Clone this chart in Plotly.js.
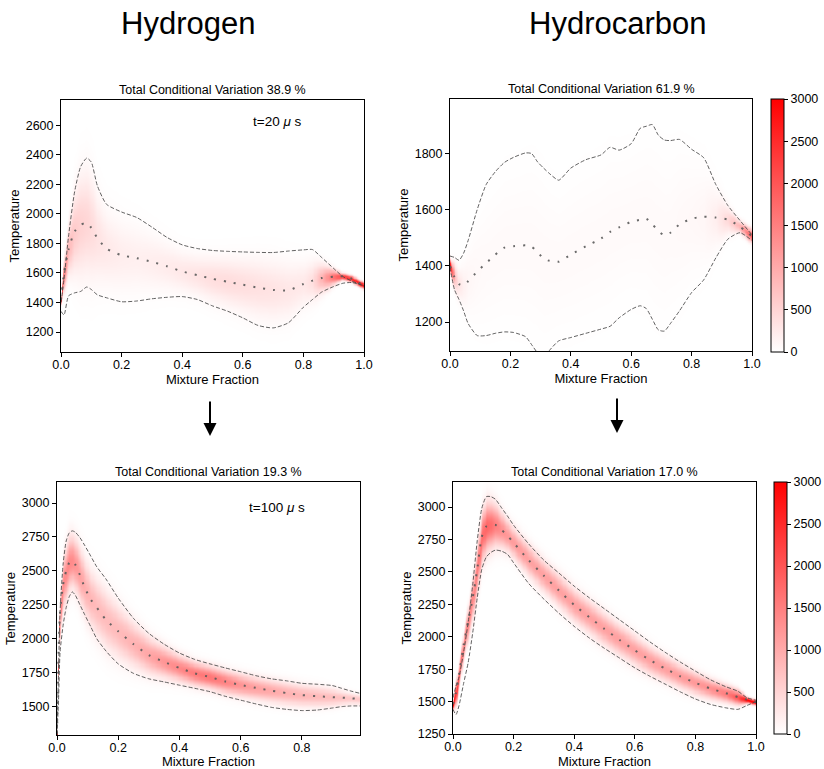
<!DOCTYPE html>
<html>
<head>
<meta charset="utf-8">
<script src="https://cdn.plot.ly/plotly-3.0.1.min.js"></script>
<style>html,body{margin:0;padding:0;background:#fff;}#chart{width:824px;height:769px;}</style>
</head>
<body>
<div id="chart"></div>
<script>
// ---------------- DATA ----------------
// Panel A: Hydrogen, t = 20 µs
const h20_x     = [0, 0.01, 0.025, 0.045, 0.065, 0.085, 0.1, 0.12, 0.15, 0.2, 0.25, 0.3, 0.35, 0.4, 0.45, 0.5, 0.55, 0.6, 0.65, 0.7, 0.75, 0.8, 0.83, 0.86, 0.9, 0.93, 0.96, 1.0];
const h20_upper = [1400, 1560, 1850, 2150, 2320, 2377, 2350, 2190, 2065, 2012, 1975, 1910, 1840, 1790, 1765, 1752, 1746, 1742, 1739, 1738, 1748, 1756, 1758, 1705, 1630, 1576, 1545, 1513];
const h20_mean  = [1420, 1600, 1760, 1880, 1925, 1940, 1905, 1836, 1765, 1720, 1700, 1675, 1645, 1610, 1585, 1560, 1540, 1520, 1500, 1485, 1482, 1525, 1548, 1565, 1575, 1578, 1560, 1513];
const h20_lower = [1340, 1316, 1445, 1465, 1475, 1505, 1488, 1452, 1432, 1405, 1410, 1425, 1435, 1440, 1420, 1377, 1341, 1296, 1245, 1228, 1262, 1368, 1420, 1470, 1508, 1530, 1535, 1513];
const h20_peak  = [2600, 1400, 800, 600, 520, 480, 420, 330, 260, 200, 180, 200, 230, 270, 320, 380, 400, 380, 350, 320, 280, 260, 380, 900, 1700, 2200, 2500, 2700];

// Panel B: Hydrocarbon, t = 20 µs
const c20_x     = [0, 0.015, 0.03, 0.045, 0.06, 0.09, 0.12, 0.15, 0.18, 0.21, 0.25, 0.27, 0.29, 0.31, 0.33, 0.36, 0.4, 0.45, 0.5, 0.53, 0.56, 0.6, 0.63, 0.65, 0.67, 0.69, 0.71, 0.73, 0.76, 0.8, 0.84, 0.88, 0.92, 0.96, 1.0];
const c20_upper = [1435, 1430, 1420, 1445, 1490, 1600, 1690, 1735, 1768, 1786, 1802, 1800, 1770, 1748, 1728, 1705, 1748, 1778, 1795, 1822, 1812, 1835, 1890, 1897, 1903, 1865, 1848, 1846, 1850, 1815, 1785, 1690, 1615, 1562, 1510];
const c20_mean  = [1400, 1360, 1335, 1330, 1345, 1380, 1410, 1440, 1465, 1470, 1473, 1468, 1450, 1425, 1418, 1415, 1440, 1470, 1497, 1521, 1537, 1557, 1564, 1568, 1548, 1525, 1508, 1518, 1548, 1568, 1575, 1572, 1565, 1540, 1505];
const c20_lower = [1395, 1315, 1280, 1240, 1195, 1152, 1152, 1160, 1165, 1163, 1148, 1120, 1090, 1070, 1100, 1133, 1145, 1160, 1175, 1185, 1215, 1245, 1258, 1248, 1210, 1172, 1168, 1195, 1240, 1305, 1350, 1428, 1495, 1518, 1490];
const c20_peak  = [3000, 700, 280, 160, 100, 70, 60, 60, 60, 60, 60, 60, 60, 60, 60, 60, 60, 60, 60, 60, 60, 60, 60, 60, 60, 60, 60, 60, 70, 80, 100, 200, 450, 900, 2000];

// Panel C: Hydrogen, t = 100 µs
const h100_x     = [0, 0.005, 0.01, 0.02, 0.03, 0.04, 0.05, 0.06, 0.075, 0.09, 0.11, 0.13, 0.16, 0.2, 0.25, 0.3, 0.35, 0.4, 0.45, 0.5, 0.55, 0.6, 0.65, 0.7, 0.75, 0.8, 0.85, 0.9, 0.93, 0.96, 0.99];
const h100_upper = [1300, 1750, 2200, 2550, 2720, 2780, 2795, 2785, 2745, 2690, 2610, 2530, 2440, 2300, 2150, 2040, 1960, 1895, 1848, 1815, 1785, 1757, 1728, 1705, 1690, 1672, 1665, 1655, 1635, 1615, 1598];
const h100_mean  = [1300, 1900, 2200, 2400, 2500, 2560, 2575, 2545, 2470, 2380, 2290, 2230, 2140, 2055, 1960, 1880, 1830, 1785, 1745, 1718, 1685, 1660, 1638, 1618, 1600, 1585, 1577, 1570, 1566, 1562, 1555];
const h100_lower = [1290, 1550, 1900, 2100, 2230, 2310, 2345, 2320, 2250, 2180, 2090, 2000, 1910, 1815, 1745, 1705, 1682, 1658, 1635, 1610, 1576, 1548, 1520, 1495, 1480, 1471, 1475, 1490, 1500, 1505, 1505];
const h100_peak  = [2600, 1900, 1500, 1350, 1350, 1400, 1350, 1250, 1100, 950, 850, 800, 780, 800, 900, 1050, 1250, 1400, 1550, 1600, 1450, 1250, 1100, 1000, 900, 850, 800, 750, 700, 650, 650];

// Panel D: Hydrocarbon, t = 100 µs
const c100_x     = [0, 0.01, 0.02, 0.035, 0.05, 0.065, 0.08, 0.095, 0.11, 0.125, 0.14, 0.16, 0.18, 0.2, 0.25, 0.3, 0.35, 0.4, 0.45, 0.5, 0.55, 0.6, 0.65, 0.7, 0.75, 0.8, 0.85, 0.9, 0.94, 0.97, 1.0];
const c100_upper = [1530, 1620, 1690, 1880, 2110, 2400, 2740, 2990, 3080, 3080, 3060, 2995, 2930, 2860, 2715, 2590, 2490, 2390, 2300, 2215, 2130, 2045, 1960, 1880, 1805, 1735, 1668, 1615, 1580, 1530, 1510];
const c100_mean  = [1480, 1570, 1710, 1935, 2120, 2300, 2520, 2770, 2850, 2862, 2862, 2825, 2778, 2725, 2590, 2470, 2355, 2245, 2150, 2060, 1975, 1895, 1820, 1755, 1695, 1645, 1600, 1565, 1535, 1515, 1495];
const c100_lower = [1440, 1400, 1470, 1640, 1800, 2030, 2300, 2520, 2615, 2650, 2668, 2660, 2635, 2570, 2410, 2290, 2180, 2080, 1990, 1910, 1835, 1760, 1695, 1635, 1575, 1520, 1478, 1452, 1440, 1470, 1500];
const c100_peak  = [2900, 2300, 1800, 1500, 1400, 1400, 1500, 1700, 1800, 1700, 1500, 1300, 1200, 1150, 1100, 1100, 1100, 1100, 1100, 1100, 1100, 1100, 1100, 1100, 1150, 1200, 1300, 1500, 2000, 2900, 3000];

// Text
const bigTitles = ['Hydrogen', 'Hydrocarbon'];
const panelTitles = ['Total Conditional Variation 38.9 %', 'Total Conditional Variation 61.9 %',
                     'Total Conditional Variation 19.3 %', 'Total Conditional Variation 17.0 %'];
const timeLabels = ['t=20 <i>μ</i> s', 't=100 <i>μ</i> s'];
const cbTicks = [0, 500, 1000, 1500, 2000, 2500, 3000];

// ---------------- helpers ----------------
const W = 824, H = 769;
const px = v => v / W;
const py = v => 1 - v / H;

function interp(xs, ys, x) {
  if (x <= xs[0]) return ys[0];
  if (x >= xs[xs.length - 1]) return ys[ys.length - 1];
  for (let i = 1; i < xs.length; i++) {
    if (x <= xs[i]) {
      const t = (x - xs[i - 1]) / (xs[i] - xs[i - 1]);
      return ys[i - 1] + t * (ys[i] - ys[i - 1]);
    }
  }
}

// density table for the heatmap, built from the mean / bounds / peak arrays
function densityTable(xs, up, mu, lo, pk, yr) {
  const gx = [], gy = [];
  for (let i = 0; i <= 250; i++) gx.push(i * 0.004);
  for (let t = yr[0]; t <= yr[1] + 8; t += 8) gy.push(t);
  const z = gy.map(() => new Array(gx.length));
  gx.forEach((x, i) => {
    const m = interp(xs, mu, x);
    const s = Math.max((interp(xs, up, x) - interp(xs, lo, x)) / 4, 14);
    const p = interp(xs, pk, x);
    gy.forEach((t, j) => {
      const d = (t - m) / s;
      z[j][i] = p * Math.exp(-0.5 * d * d);
    });
  });
  return {x: gx, y: gy, z: z};
}

const RED = [[0, '#ffffff'], [1, '#ff0000']];
const FONT = 'Liberation Sans, Arial, sans-serif';

const panels = [
  {x: h20_x, up: h20_upper, mu: h20_mean, lo: h20_lower, pk: h20_peak,
   dom: [[61, 364], [100, 352]], xr: [0, 1], yr: [1065, 2770], ydt: 200, y0: 1200, cb: null},
  {x: c20_x, up: c20_upper, mu: c20_mean, lo: c20_lower, pk: c20_peak,
   dom: [[450, 752], [99, 351]], xr: [0, 1], yr: [1097, 1994], ydt: 200, y0: 1200,
   cb: {x: 771, top: 99, bot: 352}},
  {x: h100_x, up: h100_upper, mu: h100_mean, lo: h100_lower, pk: h100_peak,
   dom: [[57, 360], [482, 735]], xr: [0, 0.99], yr: [1291, 3155], ydt: 250, y0: 1500, cb: null},
  {x: c100_x, up: c100_upper, mu: c100_mean, lo: c100_lower, pk: c100_peak,
   dom: [[453, 756], [482, 734]], xr: [0, 1], yr: [1250, 3193], ydt: 250, y0: 1250,
   cb: {x: 774, top: 482, bot: 734}}
];

const data = [];
const layout = {
  width: W, height: H,
  margin: {l: 0, r: 0, t: 0, b: 0},
  paper_bgcolor: '#fff', plot_bgcolor: '#fff',
  font: {family: FONT, color: '#000', size: 12.5},
  showlegend: false,
  annotations: [],
  shapes: []
};

panels.forEach((p, k) => {
  const n = k + 1;
  const xa = n === 1 ? 'x' : 'x' + n;
  const ya = n === 1 ? 'y' : 'y' + n;
  const tbl = densityTable(p.x, p.up, p.mu, p.lo, p.pk, p.yr);
  const hm = {
    type: 'heatmap', x: tbl.x, y: tbl.y, z: tbl.z, xaxis: xa, yaxis: ya,
    colorscale: RED, zmin: 0, zmax: 3000, zsmooth: 'best', hoverinfo: 'skip',
    showscale: !!p.cb
  };
  if (p.cb) {
    hm.colorbar = {
      x: px(p.cb.x), xanchor: 'left', xpad: 0, ypad: 0,
      y: py((p.cb.top + p.cb.bot) / 2), yanchor: 'middle',
      len: (p.cb.bot - p.cb.top) / H, lenmode: 'fraction',
      thickness: 13, outlinewidth: 1, outlinecolor: '#000',
      ticks: 'outside', ticklen: 4, tickcolor: '#000',
      tickvals: cbTicks, tickfont: {size: 12.5, family: FONT}
    };
  }
  data.push(hm);
  const dashLine = {color: 'rgba(70,70,70,0.85)', width: 1, dash: '4px,2px', shape: 'spline', smoothing: 0.6};
  data.push({type: 'scatter', mode: 'lines', x: p.x, y: p.up, xaxis: xa, yaxis: ya, line: dashLine, hoverinfo: 'skip'});
  data.push({type: 'scatter', mode: 'lines', x: p.x, y: p.lo, xaxis: xa, yaxis: ya, line: dashLine, hoverinfo: 'skip'});
  data.push({type: 'scatter', mode: 'lines', x: p.x, y: p.mu, xaxis: xa, yaxis: ya,
             line: {color: 'rgba(90,90,90,0.9)', width: 2, dash: '2px,8px', shape: 'spline', smoothing: 0.6}, hoverinfo: 'skip'});

  const axBase = {
    showline: true, mirror: true, linecolor: '#000', linewidth: 1,
    ticks: 'outside', ticklen: 4, tickcolor: '#000', tickwidth: 1,
    showgrid: false, zeroline: false, tickfont: {size: 12.5, family: FONT}
  };
  layout['xaxis' + (n === 1 ? '' : n)] = Object.assign({}, axBase, {
    domain: [px(p.dom[0][0]), px(p.dom[0][1])], range: p.xr, anchor: ya,
    tick0: 0, dtick: 0.2, tickformat: '.1f', ticklabelstandoff: -3,
    title: {text: 'Mixture Fraction', font: {size: 13, family: FONT}, standoff: 0}
  });
  layout['yaxis' + (n === 1 ? '' : n)] = Object.assign({}, axBase, {
    domain: [py(p.dom[1][1]), py(p.dom[1][0])], range: p.yr, anchor: xa,
    tick0: p.y0, dtick: p.ydt,
    title: {text: 'Temperature', font: {size: 13, family: FONT}, standoff: 3}
  });
  layout.annotations.push({
    xref: 'paper', yref: 'paper', x: px((p.dom[0][0] + p.dom[0][1]) / 2), y: py(p.dom[1][0] - 1),
    xanchor: 'center', yanchor: 'bottom', showarrow: false,
    text: panelTitles[k], font: {size: 12.5, family: FONT}
  });
});

// big column titles
layout.annotations.push({xref: 'paper', yref: 'paper', x: px(188), y: py(23), xanchor: 'center', yanchor: 'middle',
  showarrow: false, text: bigTitles[0], font: {size: 31, family: FONT}});
layout.annotations.push({xref: 'paper', yref: 'paper', x: px(617.5), y: py(23), xanchor: 'center', yanchor: 'middle',
  showarrow: false, text: bigTitles[1], font: {size: 31, family: FONT}});
// time labels
layout.annotations.push({xref: 'paper', yref: 'paper', x: px(251), y: py(122), xanchor: 'left', yanchor: 'middle',
  showarrow: false, text: timeLabels[0], font: {size: 13.5, family: FONT}});
layout.annotations.push({xref: 'paper', yref: 'paper', x: px(247), y: py(507), xanchor: 'left', yanchor: 'middle',
  showarrow: false, text: timeLabels[1], font: {size: 13.5, family: FONT}});
// arrows
layout.annotations.push({xref: 'paper', yref: 'paper', x: px(210), y: py(436), ax: 0, ay: -36, text: '',
  showarrow: true, arrowhead: 2, arrowsize: 1.3, arrowwidth: 2, arrowcolor: '#000'});
layout.annotations.push({xref: 'paper', yref: 'paper', x: px(617), y: py(433), ax: 0, ay: -36, text: '',
  showarrow: true, arrowhead: 2, arrowsize: 1.3, arrowwidth: 2, arrowcolor: '#000'});

Plotly.newPlot('chart', data, layout, {displayModeBar: false, staticPlot: true});
</script>
</body>
</html>
